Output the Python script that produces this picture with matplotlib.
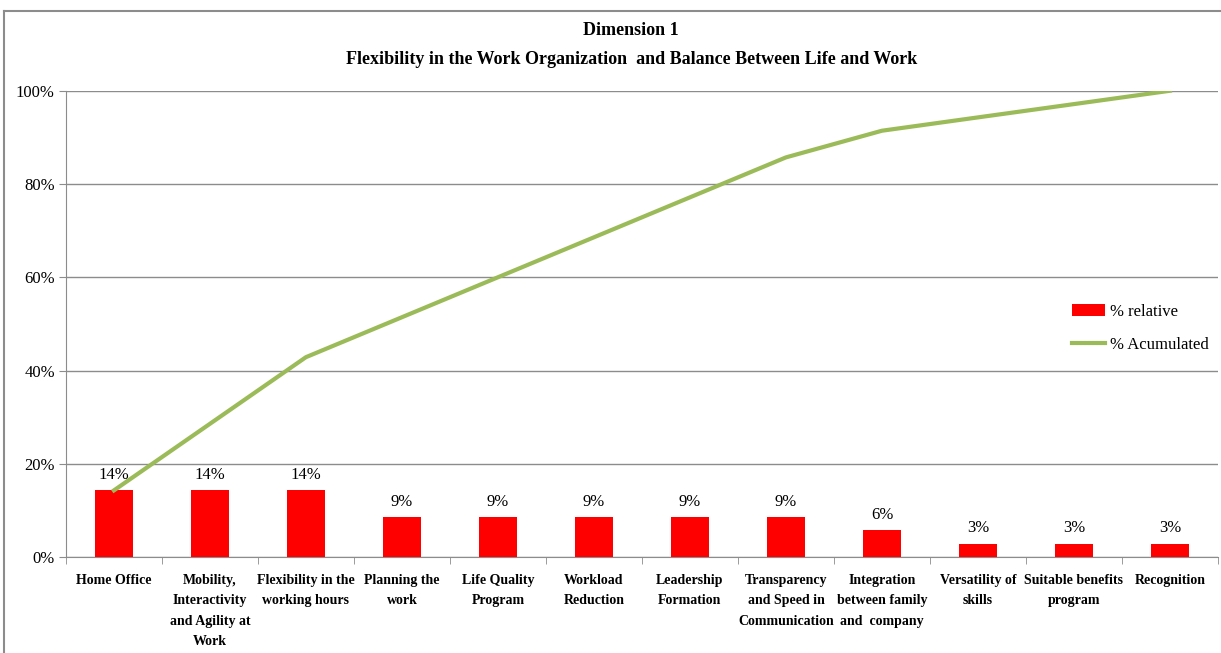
import matplotlib
matplotlib.use("Agg")
import matplotlib.pyplot as plt
import numpy as np
from matplotlib.lines import Line2D

categories = ["Home Office", "Mobility,\nInteractivity\nand Agility at\nWork",
              "Flexibility in the\nworking hours", "Planning the\nwork",
              "Life Quality\nProgram", "Workload\nReduction", "Leadership\nFormation",
              "Transparency\nand Speed in\nCommunication", "Integration\nbetween family\nand  company",
              "Versatility of\nskills", "Suitable benefits\nprogram", "Recognition"]
relative = [14.29, 14.29, 14.29, 8.57, 8.57, 8.57, 8.57, 8.57, 5.71, 2.86, 2.86, 2.86]
accumulated = [14.29, 28.57, 42.86, 51.43, 60.0, 68.57, 77.14, 85.71, 91.43, 94.29, 97.14, 100.0]
labels = ["14%", "14%", "14%", "9%", "9%", "9%", "9%", "9%", "6%", "3%", "3%", "3%"]

plt.rcParams['font.family'] = ['Liberation Serif', 'DejaVu Serif']

fig = plt.figure(figsize=(12.21, 6.53), dpi=100)
ax = fig.add_axes([0.054, 0.147, 0.9435, 0.714])

x = np.arange(len(categories))
bars = ax.bar(x, relative, width=0.4, color="#FF0000", zorder=3, label="% relative")
line, = ax.plot(x, accumulated, color="#9BBB59", lw=3, zorder=4, label="% Acumulated")
for xi, v, t in zip(x, relative, labels):
    ax.text(xi, v + 1.6, t, ha="center", va="bottom", fontsize=12)

ax.set_xlim(-0.5, len(categories) - 0.5)
ax.set_ylim(0, 100)
ax.set_yticks(range(0, 101, 20))
ax.set_yticklabels([f"{v}%" for v in range(0, 101, 20)], fontsize=12)
ax.yaxis.grid(True, color="#8C8C8C", lw=1, zorder=0)
ax.set_xticks(x)
ax.set_xticklabels(categories, fontsize=10, fontweight="bold", va="top", linespacing=1.75)
ax.set_xticks(np.arange(-0.5, len(categories), 1), minor=True)
ax.tick_params(axis="x", which="major", length=0, pad=12)
ax.tick_params(axis="x", which="minor", length=5, color="#8C8C8C")
ax.tick_params(axis="y", length=5, color="#8C8C8C", pad=3)
for s in ["top", "right"]:
    ax.spines[s].set_visible(False)
for s in ["left", "bottom"]:
    ax.spines[s].set_color("#8C8C8C")

fig.text(0.517, 0.953, "Dimension 1", ha="center", va="center", fontsize=13, fontweight="bold")
fig.text(0.517, 0.909, "Flexibility in the Work Organization  and Balance Between Life and Work",
         ha="center", va="center", fontsize=13, fontweight="bold")

ax.legend([bars, line], ["% relative", "% Acumulated"], loc="upper left",
          bbox_to_anchor=(0.86, 0.575), frameon=False, fontsize=12,
          handlelength=2.0, handletextpad=0.3, labelspacing=1.0)

fig.add_artist(Line2D([0.0035, 1.0], [1 - 11 / 653, 1 - 11 / 653], color="#8C8C8C", lw=1.5))
fig.add_artist(Line2D([0.0035, 0.0035], [0, 1 - 11 / 653], color="#8C8C8C", lw=1.5))

fig.savefig("out.png", dpi=100)
